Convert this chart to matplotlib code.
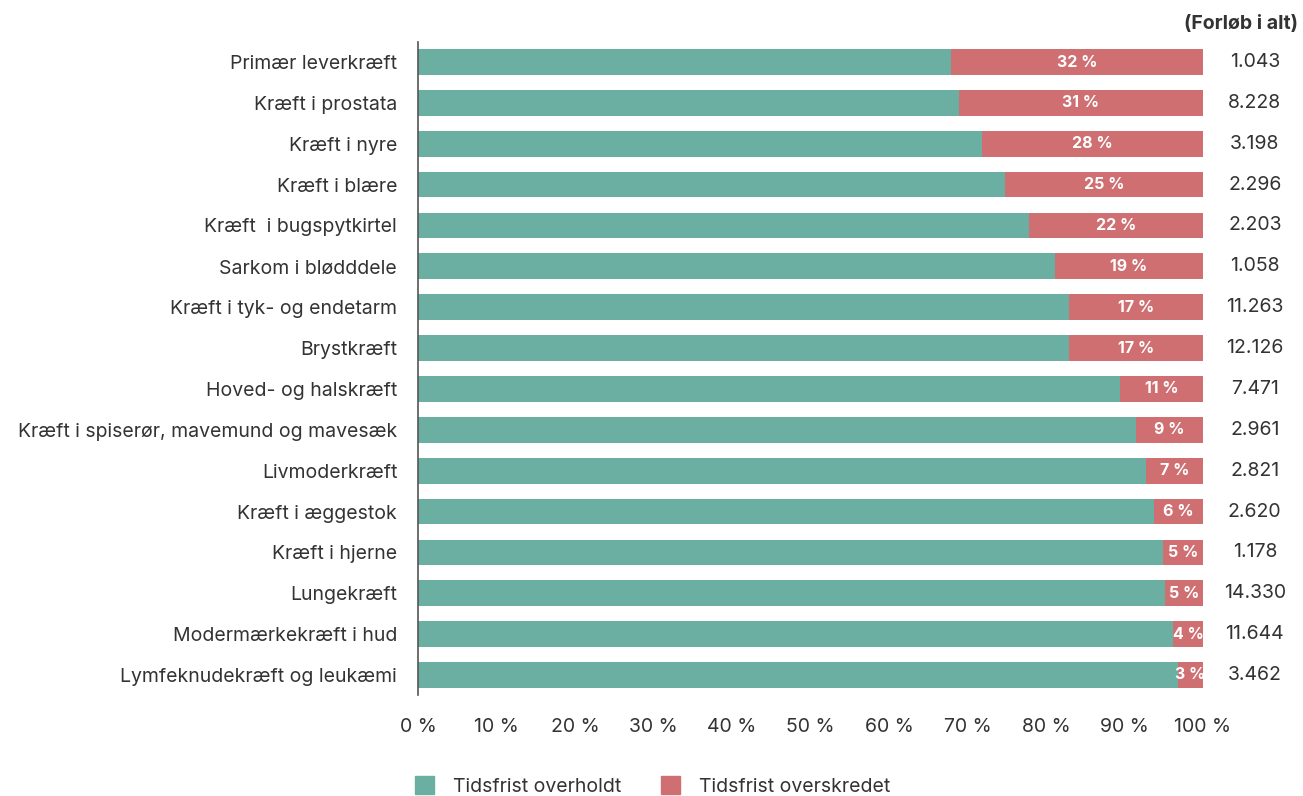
import matplotlib.pyplot as plt
from matplotlib.patches import Patch

plt.rcParams["font.family"] = ["Inter", "DejaVu Sans"]

# Data
categories = [
    "Primær leverkræft",
    "Kræft i prostata",
    "Kræft i nyre",
    "Kræft i blære",
    "Kræft  i bugspytkirtel",
    "Sarkom i blødddele",
    "Kræft i tyk- og endetarm",
    "Brystkræft",
    "Hoved- og halskræft",
    "Kræft i spiserør, mavemund og mavesæk",
    "Livmoderkræft",
    "Kræft i æggestok",
    "Kræft i hjerne",
    "Lungekræft",
    "Modermærkekræft i hud",
    "Lymfeknudekræft og leukæmi",
]
exceeded = [32.1, 31.1, 28.2, 25.2, 22.2, 18.9, 17.1, 17.1, 10.6, 8.5, 7.3, 6.2, 5.1, 4.8, 3.8, 3.2]
exceeded_labels = ["32 %", "31 %", "28 %", "25 %", "22 %", "19 %", "17 %", "17 %",
                   "11 %", "9 %", "7 %", "6 %", "5 %", "5 %", "4 %", "3 %"]
totals = ["1.043", "8.228", "3.198", "2.296", "2.203", "1.058", "11.263", "12.126",
          "7.471", "2.961", "2.821", "2.620", "1.178", "14.330", "11.644", "3.462"]
met = [100 - v for v in exceeded]

green = "#6aafa1"
red = "#cf6f72"
text_col = "#333333"

fig = plt.figure(figsize=(13.03, 7.96), dpi=100)
ax = fig.add_axes([418 / 1303, 1 - 695.4 / 796, 785 / 1303, (695.4 - 41.6) / 796])

y = list(range(len(categories)))
ax.barh(y, met, height=0.63, color=green, zorder=2)
ax.barh(y, exceeded, left=met, height=0.63, color=red, zorder=2)

# labels inside red part and totals to the right
for i in y:
    ax.text(met[i] + exceeded[i] / 2, i, exceeded_labels[i], ha="center", va="center",
            color="white", fontsize=11.5, fontweight="bold", zorder=3)
    ax.text(106.6, i, totals[i], ha="center", va="center", color=text_col, fontsize=14)

fig.text(1298 / 1303, 1 - 24 / 796, "(Forløb i alt)", ha="right", va="center",
         color=text_col, fontsize=14, fontweight="bold")

ax.set_ylim(len(categories) - 0.5, -0.5)
ax.set_xlim(0, 100)
ax.set_yticks(y)
ax.set_yticklabels(categories, fontsize=14, color=text_col)
ax.set_xticks(range(0, 101, 10))
ax.set_xticklabels([f"{v} %" for v in range(0, 101, 10)], fontsize=14, color=text_col)
ax.tick_params(axis="both", length=0)
ax.tick_params(axis="x", pad=16)
ax.tick_params(axis="y", pad=15)

for s in ["top", "right", "bottom"]:
    ax.spines[s].set_visible(False)
ax.spines["left"].set_color("#555555")
ax.spines["left"].set_linewidth(1.2)

handles = [Patch(color=green, label="Tidsfrist overholdt"),
           Patch(color=red, label="Tidsfrist overskredet")]
fig.legend(handles=handles, loc="center left", bbox_to_anchor=(397 / 1303, 1 - 786 / 796),
           ncol=2, frameon=False, fontsize=14, handlelength=1.0, handleheight=1.0,
           handletextpad=1.0, columnspacing=2.0, labelcolor=text_col)

fig.savefig("out.png", dpi=100)
